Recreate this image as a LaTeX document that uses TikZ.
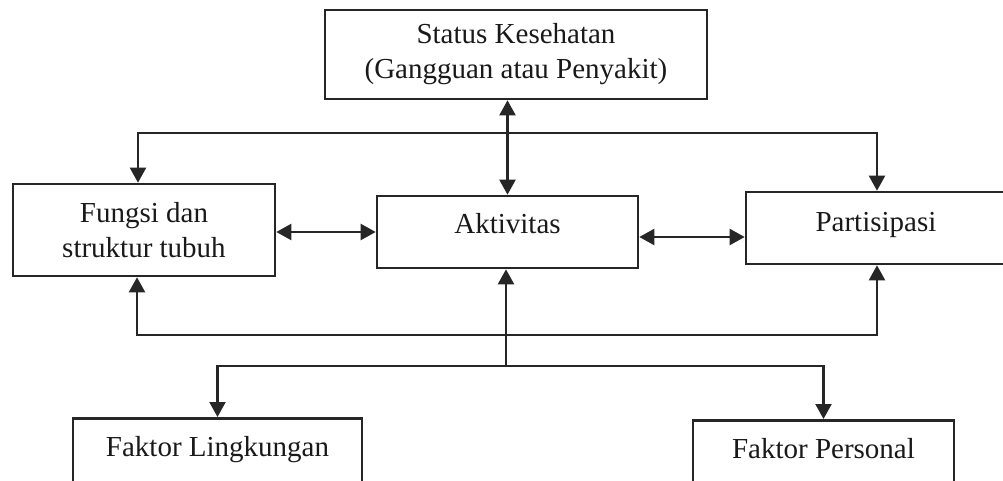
\documentclass[tikz,border=0pt]{standalone}
\usepackage{fontspec}
\setmainfont{Liberation Serif}
\usetikzlibrary{arrows.meta}

\tikzset{
  kotak/.style={draw=black!85, line width=1.3pt, inner sep=0pt, align=center,
    text=black!90, font=\fontsize{14.5pt}{17.5pt}\selectfont},
  satubaris/.style={kotak, text height=19pt, text depth=17pt},
  bawah/.style={kotak, anchor=north, text height=19pt, text depth=24pt}
}

\begin{document}
\begin{tikzpicture}[x=0.5pt,y=-0.5pt, line width=1.1pt, draw=black!85,
    >={Triangle[length=7.5pt,width=8pt]}]
    \useasboundingbox (0,0) rectangle (1003,481);
    \node[kotak, minimum width=191pt, minimum height=44.5pt] (status) at (516,54.5)
        {Status Kesehatan\\(Gangguan atau Penyakit)};
    \node[kotak, minimum width=131pt, minimum height=46pt] (fungsi) at (144,230)
        {Fungsi dan\\struktur tubuh};
    \node[satubaris, minimum width=130.5pt] (aktivitas) at (507.5,232) {Aktivitas};
    \node[satubaris, minimum width=130pt, text height=20pt, text depth=16pt]
        (partisipasi) at (876,228) {Partisipasi};
    \node[bawah, minimum width=144.5pt] (lingkungan) at (217.5,417) {Faktor Lingkungan};
    \node[bawah, minimum width=130.5pt] (personal) at (823.5,419) {Faktor Personal};
    \coordinate (atasKiri) at (138,133);
    \coordinate (atasKanan) at (877,133);
    \coordinate (bawahKiri) at (137,335);
    \coordinate (bawahKanan) at (877,335);
    \coordinate (cabang) at (506,366);
    \draw[<->] (aktivitas.north) -- (aktivitas.north |- status.south);
    \draw[<->] (atasKiri |- fungsi.north) -- (atasKiri) -- (atasKanan)
        -- (atasKanan |- partisipasi.north);
    \draw[<->] (fungsi.east |- aktivitas.west) -- (aktivitas.west);
    \draw[<->] ([yshift=-2.5pt]aktivitas.east) -- ([yshift=-2.5pt]aktivitas.east -| partisipasi.west);
    \draw[<->] (bawahKiri |- fungsi.south) -- (bawahKiri) -- (bawahKanan)
        -- (bawahKanan |- partisipasi.south);
    \draw[->] (cabang) -- (cabang |- aktivitas.south);
    \draw[<->] (lingkungan.north) -- (lingkungan.north |- cabang)
        -- (personal.north |- cabang) -- (personal.north);
\end{tikzpicture}
\end{document}
